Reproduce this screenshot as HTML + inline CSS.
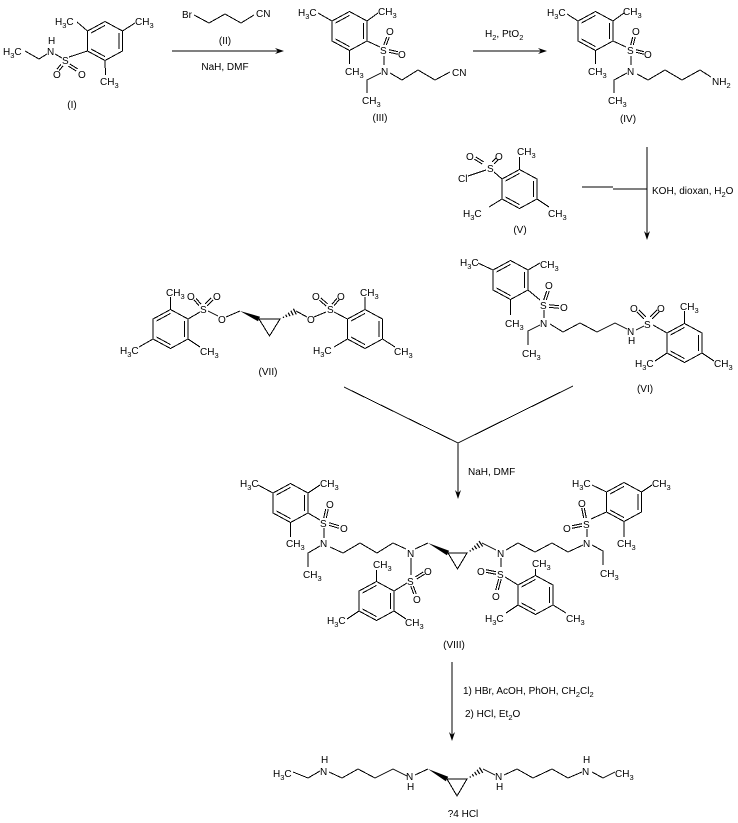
<!DOCTYPE html>
<html><head><meta charset="utf-8">
<style>
html,body{margin:0;padding:0;background:#fff;}
svg{display:block;}
text{font-family:"Liberation Sans",Arial,sans-serif;font-size:10px;fill:#000;}
.b{font-size:7.5px;}
.m{text-anchor:middle;}
</style></head>
<body>
<svg width="738" height="823" viewBox="0 0 738 823" xmlns="http://www.w3.org/2000/svg">
<defs>
<g id="r" fill="none" stroke="#000" stroke-width="1" shape-rendering="crispEdges">
<polygon points="0,-19.5 17.5,-10 17.5,10 0,19.5 -17.5,10 -17.5,-10"/>
<line x1="-14" y1="-8" x2="0" y2="-15.6"/>
<line x1="14" y1="-8" x2="14" y2="8"/>
<line x1="0" y1="15.6" x2="-14" y2="8"/>
</g>
<clipPath id="h1"><polygon points="280,319 297.6,314 294.4,308"/></clipPath>
<clipPath id="h2"><polygon points="467,553 484,546 480,540"/></clipPath>
<clipPath id="h3"><polygon points="467,779 484.9,772 481.1,766"/></clipPath>
</defs>
<rect width="738" height="823" fill="#fff"/>

<!-- rings -->
<use href="#r" x="105" y="41"/>
<use href="#r" x="349.5" y="31"/>
<use href="#r" x="595.5" y="31"/>
<use href="#r" x="519.5" y="189"/>
<use href="#r" x="170.5" y="329"/>
<use href="#r" x="365" y="329"/>
<use href="#r" x="510.5" y="280"/>
<use href="#r" x="684.5" y="343"/>
<use href="#r" x="290.5" y="503"/>
<use href="#r" x="376.5" y="601"/>
<use href="#r" x="624" y="502"/>
<use href="#r" x="535.5" y="595"/>

<g fill="none" stroke="#000" stroke-width="1" shape-rendering="crispEdges">
<!-- (I) -->
<polyline points="25,51 39,59 47,54"/>
<line x1="55" y1="54" x2="62" y2="58"/>
<line x1="61" y1="64.2" x2="57" y2="69.2"/><line x1="63" y1="65.8" x2="59" y2="70.8"/>
<line x1="69.7" y1="63.9" x2="77.7" y2="68.9"/><line x1="68.3" y1="66.1" x2="76.3" y2="71.1"/>
<line x1="69" y1="57" x2="87.5" y2="51"/>
<line x1="77" y1="22" x2="87.5" y2="31"/>
<line x1="122.5" y1="31" x2="135" y2="23"/>
<line x1="105" y1="60.5" x2="105.5" y2="75"/>
<!-- Br chain -->
<polyline points="194,15 209,23 225,14 241,23 254,15"/>
<!-- arrows top -->
<line x1="172" y1="51" x2="280" y2="51"/>
<line x1="473" y1="51" x2="543" y2="51"/>

<!-- (III) -->
<line x1="318" y1="13" x2="332" y2="21"/>
<line x1="367" y1="21" x2="378" y2="13"/>
<line x1="367" y1="41" x2="380" y2="47"/>
<line x1="383.7" y1="45" x2="386.7" y2="37"/><line x1="386.3" y1="45" x2="389.3" y2="37"/>
<line x1="389" y1="49.7" x2="398" y2="51.7"/><line x1="389" y1="52.3" x2="398" y2="54.3"/>
<line x1="384" y1="56" x2="384" y2="65"/>
<polyline points="390,73 402,80 418,70 435,80 450,72"/>
<polyline points="381,73 367,80 367,93"/>
<line x1="349.5" y1="50.5" x2="349.5" y2="64"/>

<!-- (IV) -->
<line x1="567" y1="14" x2="578" y2="21"/>
<line x1="613" y1="21" x2="624" y2="13"/>
<line x1="613" y1="41" x2="626" y2="47"/>
<line x1="630.7" y1="45" x2="632.7" y2="37"/><line x1="633.3" y1="45" x2="635.3" y2="37"/>
<line x1="636" y1="49.7" x2="644" y2="51.7"/><line x1="636" y1="52.3" x2="644" y2="54.3"/>
<line x1="631" y1="56" x2="631" y2="65"/>
<polyline points="627,73 614,80 614,93"/>
<line x1="595.5" y1="50.5" x2="595.5" y2="64"/>
<polyline points="637,74 648,80 665,70 682,80 700,70 711,77"/>

<!-- (V) -->
<line x1="502" y1="179" x2="494" y2="172"/>
<line x1="486" y1="170" x2="468" y2="176"/>
<line x1="483.7" y1="161.9" x2="475.7" y2="156.9"/><line x1="482.3" y1="164.1" x2="474.3" y2="159.1"/>
<line x1="493.9" y1="163.9" x2="497.9" y2="159.9"/><line x1="492.1" y1="162.1" x2="496.1" y2="158.1"/>
<line x1="519.5" y1="169.5" x2="519.5" y2="157"/>
<line x1="502" y1="199" x2="489" y2="207"/>
<line x1="537" y1="199" x2="549" y2="207"/>
<!-- KOH arrow -->
<line x1="582" y1="187" x2="613" y2="187"/>
<line x1="613" y1="189" x2="647" y2="189"/>
<line x1="647" y1="147" x2="647" y2="236"/>

<!-- (VII) -->
<line x1="170.5" y1="309.5" x2="170.5" y2="297"/>
<line x1="188" y1="319" x2="200" y2="312"/>
<line x1="201" y1="304.2" x2="196" y2="298.2"/><line x1="199" y1="305.8" x2="194" y2="299.8"/>
<line x1="206.9" y1="305.9" x2="212.9" y2="299.9"/><line x1="205.1" y1="304.1" x2="211.1" y2="298.1"/>
<line x1="208" y1="311" x2="218" y2="316"/>
<line x1="226" y1="317" x2="240" y2="311"/>
<polygon points="259,319 280,319 269.5,336"/>
<line x1="296" y1="311" x2="307" y2="317"/>
<line x1="314" y1="317" x2="326" y2="312"/>
<line x1="327.85" y1="304" x2="320.85" y2="298"/><line x1="326.15" y1="306" x2="319.15" y2="300"/>
<line x1="334" y1="305.8" x2="339" y2="299.8"/><line x1="332" y1="304.2" x2="337" y2="298.2"/>
<line x1="334" y1="312" x2="347.5" y2="319"/>
<line x1="365" y1="309.5" x2="365" y2="297"/>
<line x1="347.5" y1="339" x2="334" y2="347"/>
<line x1="382.5" y1="339" x2="395" y2="347"/>
<line x1="153" y1="339" x2="139" y2="347"/>
<line x1="188" y1="339" x2="200" y2="347"/>

<!-- (VI) -->
<line x1="478" y1="263" x2="493" y2="270"/>
<line x1="528" y1="270" x2="540" y2="263"/>
<line x1="528" y1="290" x2="540" y2="300"/>
<line x1="543.7" y1="300" x2="546.7" y2="291"/><line x1="546.3" y1="300" x2="549.3" y2="291"/>
<line x1="549" y1="304.7" x2="559" y2="305.7"/><line x1="549" y1="307.3" x2="559" y2="308.3"/>
<line x1="544" y1="310" x2="544" y2="318"/>
<line x1="510.5" y1="299.5" x2="510.5" y2="315"/>
<polyline points="540,325 528,331 528,345"/>
<polyline points="550,324 563,332 580,323 597,332 615,323 627,329"/>
<line x1="636" y1="330" x2="644" y2="326"/>
<line x1="645.9" y1="317.1" x2="638.9" y2="310.1"/><line x1="644.1" y1="318.9" x2="637.1" y2="311.9"/>
<line x1="651.9" y1="318.9" x2="658.9" y2="311.9"/><line x1="650.1" y1="317.1" x2="657.1" y2="310.1"/>
<line x1="653" y1="325" x2="667" y2="333"/>
<line x1="684.5" y1="323.5" x2="684.5" y2="311"/>
<line x1="667" y1="353" x2="655" y2="361"/>
<line x1="702" y1="353" x2="714" y2="361"/>

<!-- converging arrow -->
<polyline points="344,387 458,443 573,386"/>
<line x1="458" y1="443" x2="458" y2="495"/>

<!-- (VIII) -->
<line x1="258" y1="485" x2="273" y2="493"/>
<line x1="308" y1="493" x2="320" y2="485"/>
<line x1="308" y1="513" x2="320" y2="520"/>
<line x1="323.7" y1="518" x2="325.7" y2="509"/><line x1="326.3" y1="518" x2="328.3" y2="509"/>
<line x1="329" y1="522.7" x2="339" y2="525.7"/><line x1="329" y1="525.3" x2="339" y2="528.3"/>
<line x1="324" y1="528" x2="324" y2="538"/>
<line x1="290.5" y1="522.5" x2="290.5" y2="537"/>
<polyline points="320,546 308,553 308,567"/>
<polyline points="330,547 343,553 360,543 377,553 393,543 406,549"/>
<line x1="415" y1="549" x2="428" y2="543"/>
<polygon points="448,553 467,553 457.5,569"/>
<line x1="482" y1="543" x2="496" y2="550"/>
<line x1="411" y1="558" x2="411" y2="575"/>
<line x1="416.7" y1="579.1" x2="424.7" y2="574.1"/><line x1="415.3" y1="576.9" x2="423.3" y2="571.9"/>
<line x1="410.7" y1="586" x2="413.7" y2="594"/><line x1="413.3" y1="586" x2="416.3" y2="594"/>
<line x1="407" y1="583" x2="394" y2="591"/>
<line x1="376.5" y1="581.5" x2="376.5" y2="570"/>
<line x1="359" y1="611" x2="347" y2="619"/>
<line x1="394" y1="611" x2="406" y2="619"/>
<polyline points="506,550 518,543 535,552 552,543 568,552 583,545"/>
<line x1="587" y1="537" x2="587" y2="529"/>
<line x1="583.7" y1="518" x2="581.7" y2="508"/><line x1="586.3" y1="518" x2="584.3" y2="508"/>
<line x1="582" y1="523.7" x2="572" y2="525.7"/><line x1="582" y1="526.3" x2="572" y2="528.3"/>
<line x1="591" y1="519" x2="606.5" y2="512"/>
<line x1="606.5" y1="492" x2="592" y2="485"/>
<line x1="641.5" y1="492" x2="652" y2="485"/>
<line x1="624" y1="521.5" x2="624" y2="537"/>
<polyline points="592,545 603,551 603,565"/>
<line x1="501" y1="558" x2="501" y2="567"/>
<line x1="496" y1="571.7" x2="486" y2="569.7"/><line x1="496" y1="574.3" x2="486" y2="572.3"/>
<line x1="498.7" y1="579" x2="495.7" y2="590"/><line x1="501.3" y1="579" x2="498.3" y2="590"/>
<line x1="505" y1="577" x2="518" y2="585"/>
<line x1="535.5" y1="575.5" x2="535.5" y2="569"/>
<line x1="518" y1="605" x2="506" y2="613"/>
<line x1="553" y1="605" x2="566" y2="613"/>

<!-- bottom arrow -->
<line x1="452" y1="662" x2="452" y2="737"/>

<!-- final -->
<polyline points="293,772 308,778 320,771"/>
<polyline points="329,772 342,778 358,769 375,778 393,769 407,776"/>
<line x1="415" y1="775" x2="428" y2="769"/>
<polygon points="447,779 467,779 457,796"/>
<line x1="483" y1="769" x2="495" y2="775"/>
<polyline points="504,775 517,769 533,778 552,769 568,778 582,772"/>
<polyline points="592,772 603,778 615,772"/>
</g>

<!-- wedges -->
<g fill="#000" stroke="none">
<polygon points="240,311 258,321.3 260,316.7"/>
<polygon points="428,543 446.9,555.2 449.1,550.8"/>
<polygon points="428,769 445.8,781.2 448.2,776.8"/>
<!-- arrowheads -->
<polygon points="284,51 275,48 278,51 275,54"/>
<polygon points="547,51 538,48 541,51 538,54"/>
<polygon points="647,240 644,231 647,234 650,231"/>
<polygon points="458,499 455,490 458,493 461,490"/>
<polygon points="452,741 449,732 452,735 455,732"/>
</g>
<g stroke="#000" stroke-width="7" stroke-dasharray="1.2 2" fill="none">
<line x1="280" y1="319" x2="297" y2="310.5" clip-path="url(#h1)"/>
<line x1="467" y1="553" x2="483" y2="542.3" clip-path="url(#h2)"/>
<line x1="467" y1="779" x2="484" y2="768.4" clip-path="url(#h3)"/>
</g>

<!-- text -->
<!-- (I) -->
<text x="3" y="55">H<tspan class="b" dy="3">3</tspan><tspan dy="-3">C</tspan></text>
<text x="47" y="55">N</text>
<text x="48" y="44">H</text>
<text x="62" y="64">S</text>
<text x="53" y="78">O</text>
<text x="78" y="78">O</text>
<text x="55" y="25">H<tspan class="b" dy="3">3</tspan><tspan dy="-3">C</tspan></text>
<text x="135" y="25">CH<tspan class="b" dy="3">3</tspan></text>
<text x="100" y="85">CH<tspan class="b" dy="3">3</tspan></text>
<text x="72" y="108" class="m">(I)</text>
<!-- reagent 1 -->
<text x="182" y="18">Br</text>
<text x="256" y="17">CN</text>
<text x="225" y="44" class="m">(II)</text>
<text x="225" y="70" class="m">NaH, DMF</text>
<!-- (III) -->
<text x="298" y="16">H<tspan class="b" dy="3">3</tspan><tspan dy="-3">C</tspan></text>
<text x="378" y="15">CH<tspan class="b" dy="3">3</tspan></text>
<text x="380" y="54">S</text>
<text x="386" y="35">O</text>
<text x="398" y="58">O</text>
<text x="381" y="75">N</text>
<text x="452" y="76">CN</text>
<text x="362" y="104">CH<tspan class="b" dy="3">3</tspan></text>
<text x="345" y="75">CH<tspan class="b" dy="3">3</tspan></text>
<text x="380" y="121" class="m">(III)</text>
<!-- reagent 2 -->
<text x="485" y="37">H<tspan class="b" dy="3">2</tspan><tspan dy="-3">, PtO</tspan><tspan class="b" dy="3">2</tspan></text>
<!-- (IV) -->
<text x="547" y="16">H<tspan class="b" dy="3">3</tspan><tspan dy="-3">C</tspan></text>
<text x="623" y="15">CH<tspan class="b" dy="3">3</tspan></text>
<text x="627" y="54">S</text>
<text x="632" y="35">O</text>
<text x="644" y="58">O</text>
<text x="627" y="75">N</text>
<text x="608" y="104">CH<tspan class="b" dy="3">3</tspan></text>
<text x="588" y="75">CH<tspan class="b" dy="3">3</tspan></text>
<text x="712" y="85">NH<tspan class="b" dy="3">2</tspan></text>
<text x="628" y="122" class="m">(IV)</text>
<!-- (V) -->
<text x="487" y="172">S</text>
<text x="458" y="182">Cl</text>
<text x="466" y="160">O</text>
<text x="495" y="160">O</text>
<text x="517" y="155">CH<tspan class="b" dy="3">3</tspan></text>
<text x="463" y="217">H<tspan class="b" dy="3">3</tspan><tspan dy="-3">C</tspan></text>
<text x="548" y="217">CH<tspan class="b" dy="3">3</tspan></text>
<text x="520" y="233" class="m">(V)</text>
<text x="652" y="194">KOH, dioxan, H<tspan class="b" dy="3">2</tspan><tspan dy="-3">O</tspan></text>
<!-- (VII) -->
<text x="166" y="296">CH<tspan class="b" dy="3">3</tspan></text>
<text x="187" y="300">O</text>
<text x="213" y="300">O</text>
<text x="200" y="313">S</text>
<text x="218" y="323">O</text>
<text x="307" y="323">O</text>
<text x="327" y="313">S</text>
<text x="312" y="300">O</text>
<text x="337" y="300">O</text>
<text x="360" y="296">CH<tspan class="b" dy="3">3</tspan></text>
<text x="313" y="354">H<tspan class="b" dy="3">3</tspan><tspan dy="-3">C</tspan></text>
<text x="394" y="355">CH<tspan class="b" dy="3">3</tspan></text>
<text x="120" y="354">H<tspan class="b" dy="3">3</tspan><tspan dy="-3">C</tspan></text>
<text x="200" y="355">CH<tspan class="b" dy="3">3</tspan></text>
<text x="268" y="375" class="m">(VII)</text>
<!-- (VI) -->
<text x="460" y="266">H<tspan class="b" dy="3">3</tspan><tspan dy="-3">C</tspan></text>
<text x="540" y="268">CH<tspan class="b" dy="3">3</tspan></text>
<text x="540" y="309">S</text>
<text x="545" y="289">O</text>
<text x="560" y="311">O</text>
<text x="540" y="327">N</text>
<text x="505" y="327">CH<tspan class="b" dy="3">3</tspan></text>
<text x="522" y="357">CH<tspan class="b" dy="3">3</tspan></text>
<text x="627" y="335">N</text>
<text x="628" y="344">H</text>
<text x="644" y="328">S</text>
<text x="630" y="312">O</text>
<text x="657" y="312">O</text>
<text x="680" y="310">CH<tspan class="b" dy="3">3</tspan></text>
<text x="635" y="367">H<tspan class="b" dy="3">3</tspan><tspan dy="-3">C</tspan></text>
<text x="714" y="367">CH<tspan class="b" dy="3">3</tspan></text>
<text x="645" y="392" class="m">(VI)</text>
<text x="468" y="475">NaH, DMF</text>
<!-- (VIII) -->
<text x="240" y="487">H<tspan class="b" dy="3">3</tspan><tspan dy="-3">C</tspan></text>
<text x="320" y="487">CH<tspan class="b" dy="3">3</tspan></text>
<text x="320" y="527">S</text>
<text x="326" y="508">O</text>
<text x="340" y="532">O</text>
<text x="320" y="547">N</text>
<text x="286" y="547">CH<tspan class="b" dy="3">3</tspan></text>
<text x="303" y="578">CH<tspan class="b" dy="3">3</tspan></text>
<text x="407" y="557">N</text>
<text x="407" y="585">S</text>
<text x="424" y="575">O</text>
<text x="413" y="603">O</text>
<text x="373" y="568">CH<tspan class="b" dy="3">3</tspan></text>
<text x="327" y="624">H<tspan class="b" dy="3">3</tspan><tspan dy="-3">C</tspan></text>
<text x="405" y="626">CH<tspan class="b" dy="3">3</tspan></text>
<text x="497" y="557">N</text>
<text x="583" y="547">N</text>
<text x="583" y="528">S</text>
<text x="578" y="507">O</text>
<text x="563" y="532">O</text>
<text x="572" y="487">H<tspan class="b" dy="3">3</tspan><tspan dy="-3">C</tspan></text>
<text x="652" y="487">CH<tspan class="b" dy="3">3</tspan></text>
<text x="617" y="547">CH<tspan class="b" dy="3">3</tspan></text>
<text x="600" y="577">CH<tspan class="b" dy="3">3</tspan></text>
<text x="497" y="578">S</text>
<text x="477" y="575">O</text>
<text x="492" y="600">O</text>
<text x="532" y="567">CH<tspan class="b" dy="3">3</tspan></text>
<text x="485" y="622">H<tspan class="b" dy="3">3</tspan><tspan dy="-3">C</tspan></text>
<text x="566" y="622">CH<tspan class="b" dy="3">3</tspan></text>
<text x="454" y="648" class="m">(VIII)</text>
<!-- bottom reagents -->
<text x="463" y="694">1) HBr, AcOH, PhOH, CH<tspan class="b" dy="3">2</tspan><tspan dy="-3">Cl</tspan><tspan class="b" dy="3">2</tspan></text>
<text x="465" y="717">2) HCl, Et<tspan class="b" dy="3">2</tspan><tspan dy="-3">O</tspan></text>
<!-- final -->
<text x="273" y="777">H<tspan class="b" dy="3">3</tspan><tspan dy="-3">C</tspan></text>
<text x="320" y="775">N</text>
<text x="321" y="763">H</text>
<text x="406" y="780">N</text>
<text x="407" y="790">H</text>
<text x="495" y="780">N</text>
<text x="496" y="790">H</text>
<text x="582" y="775">N</text>
<text x="583" y="763">H</text>
<text x="615" y="777">CH<tspan class="b" dy="3">3</tspan></text>
<text x="463" y="817" class="m">?4 HCl</text>
</svg>
</body></html>
